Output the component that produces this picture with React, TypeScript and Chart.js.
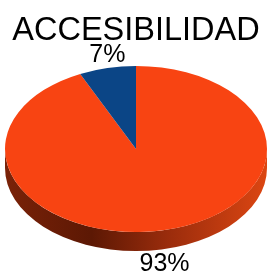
import React, { useEffect, useRef } from "react";
import { Chart, registerables } from "chart.js";

Chart.register(...registerables);

const TITLE = "ACCESIBILIDAD";
const categories = ["Accesible", "No accesible"];
const values = [93, 7];
const colors = ["#F84412", "#0B4586"];

const RX = 131;
const RY = 83;
const DEPTH = 19;

const pie3d = {
  id: "pie3d",
  beforeDatasetsDraw(chart: any) {
    const meta = chart.getDatasetMeta(0);
    const arcs = meta.data;
    if (!arcs.length) return;
    const ctx = chart.ctx;
    const cx = arcs[0].x;
    const cy = arcs[0].y;
    const r = arcs[0].outerRadius;
    const grad = ctx.createLinearGradient(cx - RX, 0, cx + RX, 0);
    grad.addColorStop(0, "#7a2208");
    grad.addColorStop(0.33, "#5c1804");
    grad.addColorStop(0.62, "#9a2c0c");
    grad.addColorStop(1, "#dc4612");
    arcs.forEach((arc: any) => {
      const s = arc.startAngle;
      const e = arc.endAngle;
      for (let k = -1; k <= 1; k++) {
        const lo = Math.max(s, 2 * Math.PI * k);
        const hi = Math.min(e, Math.PI + 2 * Math.PI * k);
        if (hi > lo) {
          ctx.save();
          ctx.beginPath();
          ctx.ellipse(cx, cy, RX, RY, 0, lo, hi, false);
          ctx.ellipse(cx, cy + DEPTH, RX, RY, 0, hi, lo, true);
          ctx.closePath();
          ctx.fillStyle = grad;
          ctx.fill();
          ctx.restore();
        }
      }
    });
    ctx.save();
    ctx.translate(cx, cy);
    ctx.scale(RX / r, RY / r);
    ctx.translate(-cx, -cy);
  },
  afterDatasetsDraw(chart: any) {
    const ctx = chart.ctx;
    ctx.restore();
    const meta = chart.getDatasetMeta(0);
    const arcs = meta.data;
    if (!arcs.length) return;
    const total = values.reduce((a, b) => a + b, 0);
    ctx.save();
    ctx.fillStyle = "#000";
    ctx.font = "25px 'Liberation Sans', Arial, sans-serif";
    ctx.textAlign = "center";
    ctx.textBaseline = "middle";
    arcs.forEach((arc: any, i: number) => {
      const mid = (arc.startAngle + arc.endAngle) / 2;
      const x = arc.x + RX * Math.cos(mid);
      let y = arc.y + RY * Math.sin(mid);
      if (Math.sin(mid) > 0) y += DEPTH + 15.5;
      else y -= 13;
      ctx.fillText(Math.round((values[i] / total) * 100) + "%", x, y);
    });
    ctx.restore();
  },
};

export default function App() {
  const ref = useRef<HTMLCanvasElement | null>(null);
  useEffect(() => {
    if (!ref.current) return;
    const chart = new Chart(ref.current, {
      type: "pie",
      data: {
        labels: categories,
        datasets: [
          {
            data: values,
            backgroundColor: colors,
            borderWidth: 0,
            clip: false as any,
          },
        ],
      },
      options: {
        responsive: false,
        animation: false,
        layout: { padding: { top: 0, bottom: 44, left: 5, right: 1 } },
        plugins: {
          legend: { display: false },
          tooltip: { enabled: false },
          title: {
            display: true,
            text: TITLE,
            color: "#000",
            font: { family: "'Liberation Sans', Arial, sans-serif", size: 32.5, weight: "normal" as any, lineHeight: 1.2 },
            padding: { top: 12, bottom: 15 },
          },
        },
      },
      plugins: [pie3d],
    });
    return () => chart.destroy();
  }, []);
  return (
    <div style={{ position: "absolute", left: 0, top: 0, width: 268, height: 276 }}>
      <canvas ref={ref} width={268} height={276} />
    </div>
  );
}
